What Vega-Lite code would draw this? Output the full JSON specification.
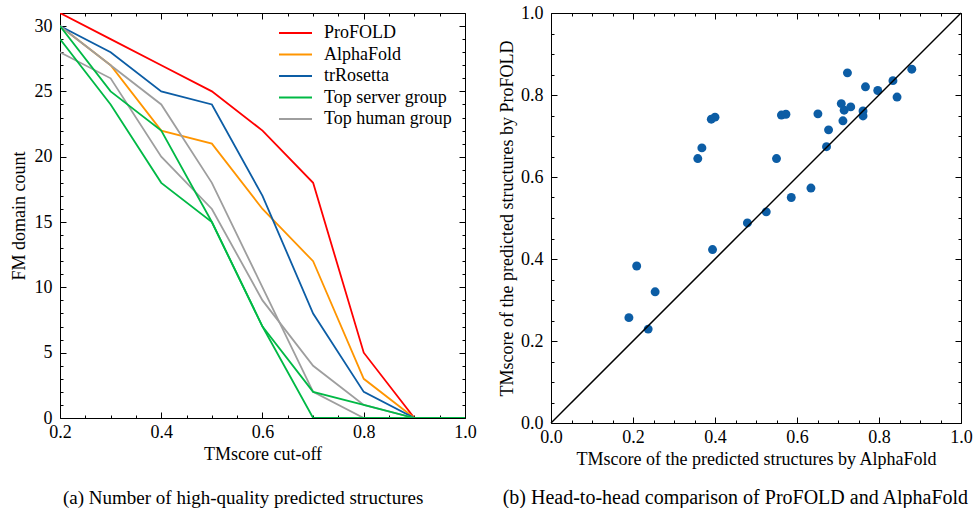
{
  "$schema": "https://vega.github.io/schema/vega-lite/v6.json",
  "padding": {"left": 9, "top": 3, "right": 5, "bottom": 0},
  "spacing": 21,
  "resolve": {"scale": {"color": "independent"}, "legend": {"color": "independent"}},
  "config": {
    "view": {"stroke": "black", "strokeWidth": 1},
    "font": "Liberation Serif",
    "axis": {
      "domain": false, "grid": false, "tickColor": "black", "tickWidth": 1, "tickSize": -6,
      "labelFont": "Liberation Serif", "labelFontSize": 18, "labelColor": "black",
      "labelFlush": false, "labelOverlap": false,
      "titleFont": "Liberation Serif", "titleFontSize": 18, "titleFontWeight": "normal", "titleColor": "black"
    },
    "axisBottom": {"labelPadding": 11},
    "axisLeft": {"labelPadding": 14},
    "axisTop": {"labelPadding": 0},
    "axisRight": {"labelPadding": 0},
    "legend": {
      "padding": 0,
      "labelFont": "Liberation Serif", "labelFontSize": 18, "labelColor": "black",
      "symbolType": "M-1.5,0L1.5,0", "symbolSize": 484, "symbolStrokeWidth": 2, "labelOffset": 16.5, "rowPadding": 0.5
    },
    "title": {"font": "Liberation Serif", "fontSize": 20, "fontWeight": "normal", "color": "black"}
  },
  "hconcat": [
    {
      "width": 405, "height": 405,
      "data": {"values": [
        {"g": "ProFOLD", "s": "p", "x": 0.2, "y": 31}, {"g": "ProFOLD", "s": "p", "x": 0.3, "y": 29}, {"g": "ProFOLD", "s": "p", "x": 0.4, "y": 27}, {"g": "ProFOLD", "s": "p", "x": 0.5, "y": 25}, {"g": "ProFOLD", "s": "p", "x": 0.6, "y": 22}, {"g": "ProFOLD", "s": "p", "x": 0.7, "y": 18}, {"g": "ProFOLD", "s": "p", "x": 0.8, "y": 5}, {"g": "ProFOLD", "s": "p", "x": 0.9, "y": 0}, {"g": "ProFOLD", "s": "p", "x": 1.0, "y": 0},
        {"g": "AlphaFold", "s": "a", "x": 0.2, "y": 30}, {"g": "AlphaFold", "s": "a", "x": 0.3, "y": 27}, {"g": "AlphaFold", "s": "a", "x": 0.4, "y": 22}, {"g": "AlphaFold", "s": "a", "x": 0.5, "y": 21}, {"g": "AlphaFold", "s": "a", "x": 0.6, "y": 16}, {"g": "AlphaFold", "s": "a", "x": 0.7, "y": 12}, {"g": "AlphaFold", "s": "a", "x": 0.8, "y": 3}, {"g": "AlphaFold", "s": "a", "x": 0.9, "y": 0}, {"g": "AlphaFold", "s": "a", "x": 1.0, "y": 0},
        {"g": "trRosetta", "s": "t", "x": 0.2, "y": 30}, {"g": "trRosetta", "s": "t", "x": 0.3, "y": 28}, {"g": "trRosetta", "s": "t", "x": 0.4, "y": 25}, {"g": "trRosetta", "s": "t", "x": 0.5, "y": 24}, {"g": "trRosetta", "s": "t", "x": 0.6, "y": 17}, {"g": "trRosetta", "s": "t", "x": 0.7, "y": 8}, {"g": "trRosetta", "s": "t", "x": 0.8, "y": 2}, {"g": "trRosetta", "s": "t", "x": 0.9, "y": 0}, {"g": "trRosetta", "s": "t", "x": 1.0, "y": 0},
        {"g": "Top human group", "s": "h1", "x": 0.2, "y": 30}, {"g": "Top human group", "s": "h1", "x": 0.3, "y": 27}, {"g": "Top human group", "s": "h1", "x": 0.4, "y": 24}, {"g": "Top human group", "s": "h1", "x": 0.5, "y": 18}, {"g": "Top human group", "s": "h1", "x": 0.6, "y": 10}, {"g": "Top human group", "s": "h1", "x": 0.7, "y": 2}, {"g": "Top human group", "s": "h1", "x": 0.8, "y": 0}, {"g": "Top human group", "s": "h1", "x": 0.9, "y": 0}, {"g": "Top human group", "s": "h1", "x": 1.0, "y": 0},
        {"g": "Top human group", "s": "h2", "x": 0.2, "y": 28}, {"g": "Top human group", "s": "h2", "x": 0.3, "y": 26}, {"g": "Top human group", "s": "h2", "x": 0.4, "y": 20}, {"g": "Top human group", "s": "h2", "x": 0.5, "y": 16}, {"g": "Top human group", "s": "h2", "x": 0.6, "y": 9}, {"g": "Top human group", "s": "h2", "x": 0.7, "y": 4}, {"g": "Top human group", "s": "h2", "x": 0.8, "y": 1}, {"g": "Top human group", "s": "h2", "x": 0.9, "y": 0}, {"g": "Top human group", "s": "h2", "x": 1.0, "y": 0},
        {"g": "Top server group", "s": "s1", "x": 0.2, "y": 30}, {"g": "Top server group", "s": "s1", "x": 0.3, "y": 25}, {"g": "Top server group", "s": "s1", "x": 0.4, "y": 22}, {"g": "Top server group", "s": "s1", "x": 0.5, "y": 15}, {"g": "Top server group", "s": "s1", "x": 0.6, "y": 7}, {"g": "Top server group", "s": "s1", "x": 0.7, "y": 0}, {"g": "Top server group", "s": "s1", "x": 0.8, "y": 0}, {"g": "Top server group", "s": "s1", "x": 0.9, "y": 0}, {"g": "Top server group", "s": "s1", "x": 1.0, "y": 0},
        {"g": "Top server group", "s": "s2", "x": 0.2, "y": 29}, {"g": "Top server group", "s": "s2", "x": 0.3, "y": 24}, {"g": "Top server group", "s": "s2", "x": 0.4, "y": 18}, {"g": "Top server group", "s": "s2", "x": 0.5, "y": 15}, {"g": "Top server group", "s": "s2", "x": 0.6, "y": 7}, {"g": "Top server group", "s": "s2", "x": 0.7, "y": 2}, {"g": "Top server group", "s": "s2", "x": 0.8, "y": 1}, {"g": "Top server group", "s": "s2", "x": 0.9, "y": 0}, {"g": "Top server group", "s": "s2", "x": 1.0, "y": 0}
      ]},
      "title": {"text": "(a) Number of high-quality predicted structures", "orient": "bottom", "anchor": "middle", "frame": "bounds", "offset": 26, "fontSize": 19},
      "layer": [
        {
          "mark": {"type": "line", "strokeWidth": 1.8, "clip": true},
          "encoding": {
            "x": {"field": "x", "type": "quantitative", "scale": {"domain": [0.2, 1.0], "nice": false, "zero": false},
                  "axis": {"orient": "bottom", "title": "TMscore cut-off", "values": [0.2, 0.4, 0.6, 0.8, 1.0], "format": ".1f"}},
            "y": {"field": "y", "type": "quantitative", "scale": {"domain": [0, 31], "nice": false},
                  "axis": {"orient": "left", "title": "FM domain count", "titlePadding": 6, "values": [0, 5, 10, 15, 20, 25, 30], "format": "d"}},
            "color": {"field": "g", "type": "nominal",
                      "scale": {"domain": ["ProFOLD", "AlphaFold", "trRosetta", "Top server group", "Top human group"],
                                "range": ["#FF0000", "#FF9500", "#0C5DA5", "#00B945", "#9e9e9e"]},
                      "legend": {"title": null, "orient": "none", "legendX": 223.5, "legendY": 8}},
            "detail": {"field": "s"}
          }
        },
        {
          "mark": {"type": "line", "opacity": 0},
          "encoding": {
            "x": {"field": "x", "type": "quantitative", "axis": {"orient": "top", "title": null, "labels": false, "values": [0.2, 0.4, 0.6, 0.8, 1.0]}},
            "y": {"field": "y", "type": "quantitative", "axis": {"orient": "right", "title": null, "labels": false, "values": [0, 5, 10, 15, 20, 25, 30]}},
            "detail": {"field": "s"}
          }
        },
        {
          "mark": {"type": "line", "opacity": 0},
          "encoding": {
            "x": {"field": "x", "type": "quantitative", "axis": {"orient": "bottom", "title": null, "labels": false, "tickSize": -3, "values": [0.25, 0.3, 0.35, 0.45, 0.5, 0.55, 0.65, 0.7, 0.75, 0.85, 0.9, 0.95]}},
            "y": {"field": "y", "type": "quantitative", "axis": {"orient": "left", "title": null, "labels": false, "tickSize": -3, "values": [1, 2, 3, 4, 6, 7, 8, 9, 11, 12, 13, 14, 16, 17, 18, 19, 21, 22, 23, 24, 26, 27, 28, 29, 31]}},
            "detail": {"field": "s"}
          }
        },
        {
          "mark": {"type": "line", "opacity": 0},
          "encoding": {
            "x": {"field": "x", "type": "quantitative", "axis": {"orient": "top", "title": null, "labels": false, "tickSize": -3, "values": [0.25, 0.3, 0.35, 0.45, 0.5, 0.55, 0.65, 0.7, 0.75, 0.85, 0.9, 0.95]}},
            "y": {"field": "y", "type": "quantitative", "axis": {"orient": "right", "title": null, "labels": false, "tickSize": -3, "values": [1, 2, 3, 4, 6, 7, 8, 9, 11, 12, 13, 14, 16, 17, 18, 19, 21, 22, 23, 24, 26, 27, 28, 29, 31]}},
            "detail": {"field": "s"}
          }
        }
      ],
      "resolve": {"axis": {"x": "independent", "y": "independent"}}
    },
    {
      "width": 410, "height": 410,
      "title": {"text": "(b) Head-to-head comparison of ProFOLD and AlphaFold", "orient": "bottom", "anchor": "middle", "frame": "bounds", "offset": 20},
      "layer": [
        {
          "data": {"values": [
            {"a": 0.190, "p": 0.257}, {"a": 0.209, "p": 0.383}, {"a": 0.254, "p": 0.320}, {"a": 0.237, "p": 0.229}, {"a": 0.394, "p": 0.423},
            {"a": 0.358, "p": 0.645}, {"a": 0.368, "p": 0.671}, {"a": 0.391, "p": 0.741}, {"a": 0.400, "p": 0.746}, {"a": 0.479, "p": 0.488},
            {"a": 0.525, "p": 0.515}, {"a": 0.550, "p": 0.645}, {"a": 0.586, "p": 0.550}, {"a": 0.562, "p": 0.751}, {"a": 0.573, "p": 0.753},
            {"a": 0.634, "p": 0.573}, {"a": 0.651, "p": 0.754}, {"a": 0.677, "p": 0.715}, {"a": 0.672, "p": 0.674}, {"a": 0.708, "p": 0.779},
            {"a": 0.715, "p": 0.763}, {"a": 0.712, "p": 0.737}, {"a": 0.723, "p": 0.854}, {"a": 0.731, "p": 0.771}, {"a": 0.761, "p": 0.761},
            {"a": 0.761, "p": 0.749}, {"a": 0.767, "p": 0.820}, {"a": 0.797, "p": 0.811}, {"a": 0.834, "p": 0.835}, {"a": 0.844, "p": 0.795},
            {"a": 0.880, "p": 0.863}
          ]},
          "mark": {"type": "circle", "size": 80, "opacity": 1, "color": "#0C5DA5"},
          "encoding": {
            "x": {"field": "a", "type": "quantitative", "scale": {"domain": [0, 1], "nice": false},
                  "axis": {"orient": "bottom", "title": "TMscore of the predicted structures by AlphaFold", "values": [0, 0.2, 0.4, 0.6, 0.8, 1.0], "format": ".1f"}},
            "y": {"field": "p", "type": "quantitative", "scale": {"domain": [0, 1], "nice": false},
                  "axis": {"orient": "left", "title": "TMscore of the predicted structures by ProFOLD", "values": [0, 0.2, 0.4, 0.6, 0.8, 1.0], "format": ".1f"}}
          }
        },
        {
          "data": {"values": [{"a": 0, "p": 0}, {"a": 1, "p": 1}]},
          "mark": {"type": "line", "color": "black", "strokeWidth": 1.5},
          "encoding": {
            "x": {"field": "a", "type": "quantitative", "axis": {"orient": "top", "title": null, "labels": false, "values": [0, 0.2, 0.4, 0.6, 0.8, 1.0]}},
            "y": {"field": "p", "type": "quantitative", "axis": {"orient": "right", "title": null, "labels": false, "values": [0, 0.2, 0.4, 0.6, 0.8, 1.0]}}
          }
        },
        {
          "data": {"values": [{"a": 0, "p": 0}, {"a": 1, "p": 1}]},
          "mark": {"type": "line", "opacity": 0},
          "encoding": {
            "x": {"field": "a", "type": "quantitative", "axis": {"orient": "bottom", "title": null, "labels": false, "tickSize": -3, "values": [0.05, 0.1, 0.15, 0.25, 0.3, 0.35, 0.45, 0.5, 0.55, 0.65, 0.7, 0.75, 0.85, 0.9, 0.95]}},
            "y": {"field": "p", "type": "quantitative", "axis": {"orient": "left", "title": null, "labels": false, "tickSize": -3, "values": [0.05, 0.1, 0.15, 0.25, 0.3, 0.35, 0.45, 0.5, 0.55, 0.65, 0.7, 0.75, 0.85, 0.9, 0.95]}}
          }
        },
        {
          "data": {"values": [{"a": 0, "p": 0}, {"a": 1, "p": 1}]},
          "mark": {"type": "line", "opacity": 0},
          "encoding": {
            "x": {"field": "a", "type": "quantitative", "axis": {"orient": "top", "title": null, "labels": false, "tickSize": -3, "values": [0.05, 0.1, 0.15, 0.25, 0.3, 0.35, 0.45, 0.5, 0.55, 0.65, 0.7, 0.75, 0.85, 0.9, 0.95]}},
            "y": {"field": "p", "type": "quantitative", "axis": {"orient": "right", "title": null, "labels": false, "tickSize": -3, "values": [0.05, 0.1, 0.15, 0.25, 0.3, 0.35, 0.45, 0.5, 0.55, 0.65, 0.7, 0.75, 0.85, 0.9, 0.95]}}
          }
        }
      ],
      "resolve": {"axis": {"x": "independent", "y": "independent"}}
    }
  ]
}
